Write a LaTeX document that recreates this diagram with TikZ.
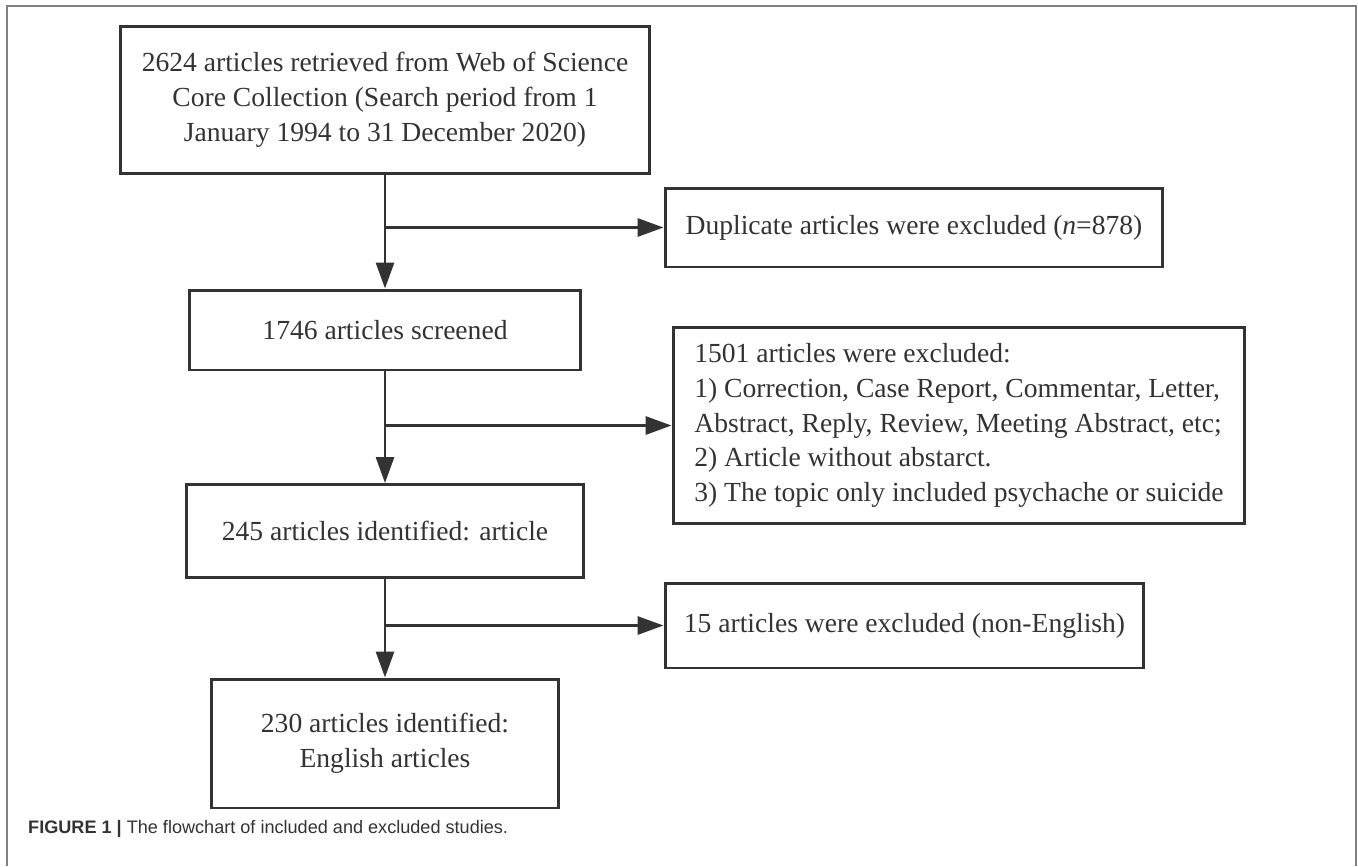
\documentclass[tikz,border=0pt]{standalone}
\usepackage{fontspec}
\setmainfont{Liberation Serif}
\newfontfamily\capfont{Liberation Sans}
\usetikzlibrary{arrows.meta}
\definecolor{inkgray}{HTML}{333333}

\begin{document}
\begin{tikzpicture}[x=0.02cm, y=-0.02cm,
        box/.style={draw=inkgray, line width=1.7pt, text=inkgray, align=center,
            inner sep=0pt, font=\fontsize{15.7}{19.8}\selectfont},
        arr/.style={draw=inkgray, line width=1.7pt,
            -{Triangle[length=0.52cm, width=0.36cm]}}]
        \useasboundingbox (0,0) rectangle (1358,866);
        \draw[gray, line width=0.8pt] (7,866) -- (7,6) -- (1356,6) -- (1356,866);

        % main column
        \node[box, minimum width=10.58cm, minimum height=2.96cm] (retrieved) at (385,100)
            {2624 articles retrieved from Web of Science\\Core Collection (Search period from 1\\January 1994 to 31 December 2020)};
        \node[box, minimum width=7.84cm, minimum height=1.6cm] (screened) at (385,330)
            {1746 articles screened};
        \node[box, minimum width=7.94cm, minimum height=1.86cm] (identified) at (385,531)
            {245 articles identified: article};
        \node[box, minimum width=6.96cm, minimum height=2.58cm] (english) at (385,743.5)
            {230 articles identified:\\English articles};

        % excluded
        \node[box, minimum width=9.96cm, minimum height=1.58cm] (dupl) at (914,227.5)
            {Duplicate articles were excluded (\textit{n}=878)};
        \node[box, minimum width=11.44cm, minimum height=3.94cm, align=left] (excltype) at (959,425.5)
            {1501 articles were excluded:\\1) Correction, Case Report, Commentar, Letter,\\Abstract, Reply, Review, Meeting Abstract, etc;\\2) Article without abstarct.\\3) The topic only included psychache or suicide};
        \node[box, minimum width=9.58cm, minimum height=1.7cm] (nonengl) at (904.5,625.5)
            {15 articles were excluded (non-English)};

        \draw[arr] (retrieved.south) -- (screened.north);
        \draw[arr] (screened.south) -- (identified.north);
        \draw[arr] (identified.south) -- (english.north);
        \draw[arr] (retrieved.south |- dupl.west) -- (dupl.west);
        \draw[arr] (screened.south |- excltype.west) -- (excltype.west);
        \draw[arr] (identified.south |- nonengl.west) -- (nonengl.west);

        \node[anchor=west, text=inkgray, font=\capfont\fontsize{10.3}{12}\selectfont] (caption) at (22,829)
            {\textbf{FIGURE 1 |} The flowchart of included and excluded studies.};
\end{tikzpicture}
\end{document}
